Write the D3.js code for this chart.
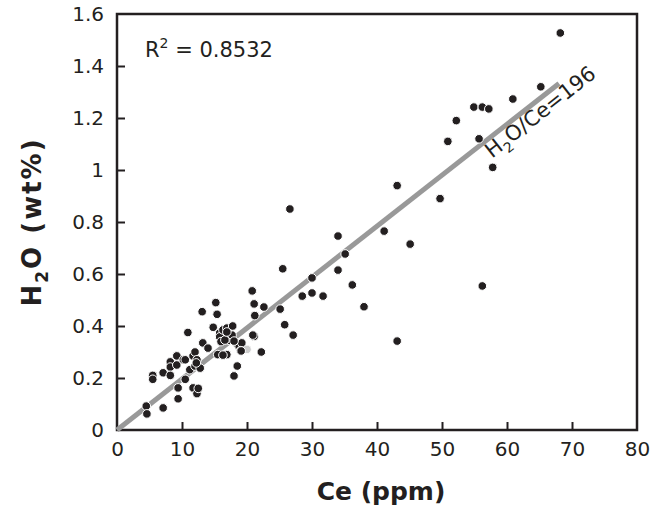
<!DOCTYPE html>
<html>
<head>
<meta charset="utf-8">
<script src="https://cdn.jsdelivr.net/npm/d3@7"></script>
<style>
  body { margin: 0; background: #fff; }
  svg text { font-family: "DejaVu Sans", Verdana, sans-serif; fill: #231f20; }
</style>
</head>
<body>
<div id="chart"></div>
<script>
// Ce (ppm) values
const ce = [4.5, 4.6, 5.5, 5.5, 7.1, 7.1, 8.2, 8.2, 8.2, 9.2, 9.2, 9.4, 9.4, 10.2, 10.5, 10.5,
    10.9, 11.2, 11.7, 11.7, 12.0, 12.0, 12.3, 12.3, 12.5, 12.8, 13.1, 13.2, 14.0, 14.8, 15.2,
    15.4, 15.5, 15.8, 15.8, 16.3, 16.0, 16.9, 16.9, 17.3, 17.7, 17.8, 18.0, 18.5, 18.5, 18.8,
    19.2, 19.0, 20.8, 21.1, 21.2, 21.1, 22.2, 22.6, 25.1, 25.5, 25.8, 26.6, 27.1, 28.5, 30.0,
    30.0, 31.7, 34.0, 34.0, 35.1, 36.2, 38.0, 41.1, 43.1, 43.1, 45.1, 49.7, 50.9, 52.2, 54.9,
    56.2, 57.2, 55.7, 56.2, 57.8, 60.9, 65.2, 68.2,
    16.6, 16.9, 18.0, 19.1, 16.3, 12.2, 20.9];
// H2O (wt%) values
const h2o = [0.092, 0.062, 0.21, 0.195, 0.22, 0.085, 0.262, 0.242, 0.21, 0.285, 0.25, 0.162,
    0.12, 0.27, 0.195, 0.27, 0.375, 0.232, 0.285, 0.162, 0.3, 0.246, 0.27, 0.14, 0.16, 0.238,
    0.455, 0.335, 0.315, 0.395, 0.49, 0.445, 0.29, 0.373, 0.358, 0.385, 0.34, 0.392, 0.29,
    0.345, 0.365, 0.4, 0.208, 0.246, 0.33, 0.32, 0.335, 0.305, 0.535, 0.485, 0.44, 0.36, 0.3,
    0.473, 0.465, 0.62, 0.405, 0.85, 0.365, 0.515, 0.585, 0.527, 0.515, 0.746, 0.615, 0.677,
    0.558, 0.474, 0.765, 0.94, 0.342, 0.715, 0.89, 1.11, 1.19, 1.242, 1.242, 1.235, 1.12,
    0.554, 1.01, 1.273, 1.32, 1.527,
    0.346, 0.377, 0.342, 0.304, 0.288, 0.258, 0.365];
// one light grey sample
const greyPoint = [20.0, 0.31];

// fit line H2O/Ce = 196
const ratio = 196;
const fitCe = [0, 68];

const xTicks = [0, 10, 20, 30, 40, 50, 60, 70, 80];
const yTicks = [0, 0.2, 0.4, 0.6, 0.8, 1, 1.2, 1.4, 1.6];
const r2 = "0.8532";

const width = 665, height = 508;
const margin = { top: 14, right: 28, bottom: 78, left: 117 };
const innerW = width - margin.left - margin.right;
const innerH = height - margin.top - margin.bottom;

const svg = d3.select("#chart").append("svg")
    .attr("width", width)
    .attr("height", height);

const g = svg.append("g")
    .attr("transform", `translate(${margin.left},${margin.top})`);

const x = d3.scaleLinear().domain([0, 80]).range([0, innerW]);
const y = d3.scaleLinear().domain([0, 1.6]).range([innerH, 0]);

// axes, ticks pointing inwards
const xAxis = g.append("g")
    .attr("transform", `translate(0,${innerH})`)
    .call(d3.axisBottom(x).tickValues(xTicks).tickSize(-8).tickPadding(12).tickFormat(d3.format("d")));
const yAxis = g.append("g")
    .call(d3.axisLeft(y).tickValues(yTicks).tickSize(-8).tickPadding(13).tickFormat(d => d === 0 ? "0" : d3.format("~g")(d)));

[xAxis, yAxis].forEach(a => {
    a.select(".domain").remove();
    a.selectAll(".tick line").attr("stroke", "#231f20").attr("stroke-width", 2);
    a.selectAll(".tick text").attr("font-size", "20px").attr("fill", "#231f20")
        .style("font-family", "'DejaVu Sans', Verdana, sans-serif");
});
// no tick marks at the frame corners
xAxis.selectAll(".tick line").filter(d => d === 0 || d === 80).remove();
yAxis.selectAll(".tick line").filter(d => d === 0 || d === 1.6).remove();
xAxis.selectAll(".tick text").attr("dy", "0.72em");

// frame
g.append("rect")
    .attr("x", 0).attr("y", 0)
    .attr("width", innerW).attr("height", innerH)
    .attr("fill", "none")
    .attr("stroke", "#231f20")
    .attr("stroke-width", 2.5);

// fit line
g.append("line")
    .attr("x1", x(fitCe[0])).attr("y1", y(fitCe[0] * ratio / 10000))
    .attr("x2", x(fitCe[1])).attr("y2", y(fitCe[1] * ratio / 10000))
    .attr("stroke", "#999999")
    .attr("stroke-width", 5);

// points
const pts = ce.map((c, i) => ({ ce: c, h2o: h2o[i] }));
g.append("circle")
    .attr("cx", x(greyPoint[0])).attr("cy", y(greyPoint[1]))
    .attr("r", 4.3)
    .attr("fill", "#cccccc")
    .attr("stroke", "#fff").attr("stroke-width", 1);
g.selectAll(".pt").data(pts).enter()
    .append("circle")
    .attr("class", "pt")
    .attr("cx", d => x(d.ce))
    .attr("cy", d => y(d.h2o))
    .attr("r", 4.3)
    .attr("fill", "#231f20")
    .attr("stroke", "#fff")
    .attr("stroke-width", 1);

// line label, under the line and along its slope
const angle = Math.atan2(y(0) - y(fitCe[1] * ratio / 10000), x(fitCe[1]) - x(0)) * 180 / Math.PI;
const lblCe = 56.0;
const lbl = g.append("text")
    .attr("transform", `translate(${x(lblCe)},${y(lblCe * ratio / 10000)}) rotate(${-angle})`)
    .attr("y", 18)
    .attr("font-size", "21px");
lbl.append("tspan").text("H");
lbl.append("tspan").text("2").attr("font-size", "14px").attr("dy", "6");
lbl.append("tspan").text("O/Ce=" + ratio).attr("dy", "-6");

// R squared
const rt = g.append("text")
    .attr("x", 28).attr("y", 43)
    .attr("font-size", "21px");
rt.append("tspan").text("R");
rt.append("tspan").text("2").attr("font-size", "14px").attr("dy", "-9");
rt.append("tspan").text(" = " + r2).attr("dy", "9");

// axis titles
svg.append("text")
    .attr("x", margin.left + innerW / 2 + 4)
    .attr("y", 500)
    .attr("text-anchor", "middle")
    .attr("font-size", "25px")
    .attr("font-weight", "bold")
    .text("Ce (ppm)");

const yt = svg.append("text")
    .attr("transform", `translate(41,${margin.top + innerH / 2}) rotate(-90)`)
    .attr("text-anchor", "middle")
    .attr("font-size", "26px")
    .attr("font-weight", "bold")
    .attr("letter-spacing", "2px");
yt.append("tspan").text("H");
yt.append("tspan").text("2").attr("font-size", "17px").attr("dy", "7");
yt.append("tspan").text("O (wt%)").attr("dy", "-7");
</script>
</body>
</html>
